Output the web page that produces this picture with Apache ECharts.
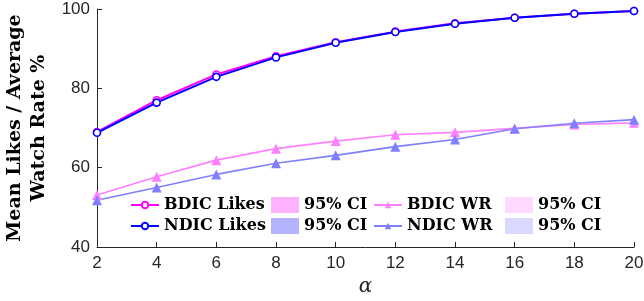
<!DOCTYPE html>
<html>
<head>
<meta charset="utf-8">
<script src="https://cdn.jsdelivr.net/npm/echarts@6/dist/echarts.min.js"></script>
<style>
    html, body { margin: 0; padding: 0; background: #fff; }
    #chart { width: 644px; height: 301px; }
</style>
</head>
<body>
<div id="chart"></div>
<script>
// alpha values on the x axis
var alphas = [2, 4, 6, 8, 10, 12, 14, 16, 18, 20];
var bdicLikes = [69.0, 77.0, 83.5, 88.1, 91.6, 94.3, 96.4, 97.8, 98.8, 99.5];
var ndicLikes = [68.8, 76.4, 82.9, 87.8, 91.5, 94.2, 96.3, 97.8, 98.8, 99.5];
var bdicWR = [53.1, 57.7, 61.9, 64.8, 66.7, 68.3, 68.9, 69.9, 70.9, 71.3];
var ndicWR = [51.8, 55.0, 58.3, 61.1, 63.1, 65.3, 67.1, 69.8, 71.2, 72.1];

var serif = 'DejaVu Serif';
var sans = 'Liberation Sans';
var axisColor = '#262626';

function pairs(ys) {
    return alphas.map(function (a, i) { return [a, ys[i]]; });
}

function lineSeries(name, ys, color, symbol, size, width, hollow) {
    return {
        name: name,
        type: 'line',
        data: pairs(ys),
        symbol: symbol,
        symbolSize: size,
        showSymbol: true,
        lineStyle: { color: color, width: width },
        itemStyle: hollow
            ? { color: '#fff', borderColor: color, borderWidth: 1.6 }
            : { color: color, borderWidth: 0 },
        emphasis: { disabled: true },
        animation: false
    };
}

// legend-only entries for the confidence bands
function ciSeries(name, color) {
    return {
        name: name,
        type: 'line',
        data: [],
        itemStyle: { color: color },
        lineStyle: { color: color },
        animation: false
    };
}

var legendText = { fontFamily: serif, fontWeight: 'bold', fontSize: 16, color: '#000' };

function legendCol(left, names, icon, w, h, fmt) {
    return {
        orient: 'vertical',
        left: left,
        top: 197,
        itemGap: 5,
        itemWidth: w,
        itemHeight: h,
        icon: icon,
        padding: 0,
        selectedMode: false,
        data: names,
        textStyle: legendText,
        formatter: fmt
    };
}

var chart = echarts.init(document.getElementById('chart'));
chart.setOption({
    animation: false,
    grid: { left: 97, right: 10, top: 9, bottom: 54, outerBoundsMode: 'none', containLabel: false },
    xAxis: {
        type: 'value',
        min: 2,
        max: 20,
        interval: 2,
        name: 'α',
        nameLocation: 'middle',
        nameGap: 30,
        nameTextStyle: { fontFamily: serif, fontStyle: 'italic', fontSize: 20, color: axisColor },
        axisLine: { lineStyle: { color: axisColor, width: 1 } },
        axisTick: { inside: true, length: 5, lineStyle: { color: axisColor } },
        axisLabel: { fontFamily: sans, fontSize: 17, color: axisColor, margin: 8 },
        splitLine: { show: false }
    },
    yAxis: {
        type: 'value',
        min: 40,
        max: 100,
        interval: 20,
        name: 'Mean Likes / Average\nWatch Rate %',
        nameLocation: 'middle',
        nameGap: 42,
        nameTextStyle: { fontFamily: serif, fontWeight: 'bold', fontSize: 19, lineHeight: 24, color: '#000' },
        axisLine: { show: true, lineStyle: { color: axisColor, width: 1 } },
        axisTick: { show: true, inside: true, length: 5, lineStyle: { color: axisColor } },
        axisLabel: { fontFamily: sans, fontSize: 17, color: axisColor, margin: 7 },
        splitLine: { show: false }
    },
    legend: [
        legendCol(130, ['BDIC Likes', 'NDIC Likes'], undefined, 28, 8),
        legendCol(271, ['ciBL', 'ciNL'], 'rect', 28, 16, function () { return '95% CI'; }),
        legendCol(373, ['BDIC WR', 'NDIC WR'], undefined, 28, 8),
        legendCol(505, ['ciBW', 'ciNW'], 'rect', 28, 16, function () { return '95% CI'; })
    ],
    series: [
        ciSeries('ciBL', '#ffb3ff'),
        ciSeries('ciNL', '#b3b3ff'),
        ciSeries('ciBW', '#ffd9ff'),
        ciSeries('ciNW', '#d9d9ff'),
        lineSeries('BDIC WR', bdicWR, '#ff80ff', 'triangle', 10, 1.6, false),
        lineSeries('NDIC WR', ndicWR, '#8080ff', 'triangle', 10, 1.6, false),
        lineSeries('BDIC Likes', bdicLikes, '#ff00ff', 'circle', 7, 2, true),
        lineSeries('NDIC Likes', ndicLikes, '#0000ff', 'circle', 7, 2, true)
    ]
});
</script>
</body>
</html>
